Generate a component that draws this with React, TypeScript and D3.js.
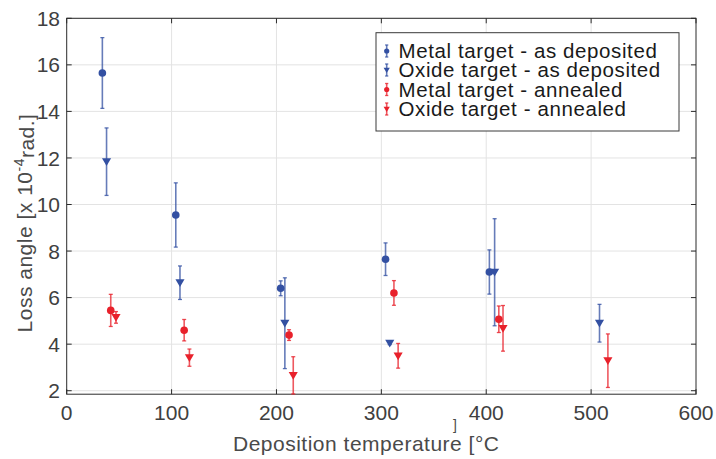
import React, { useEffect, useRef } from 'react';
import * as d3 from 'd3';

// values (loss angle in 1e-4 rad, temperature in °C)
const metalAsDepT = [34, 104, 204, 304, 403];
const metalAsDepY = [15.65, 9.55, 6.4, 7.65, 7.1];
const metalAsDepErr = [1.52, 1.38, 0.32, 0.7, 0.95];

const oxideAsDepT = [38, 108, 208, 308, 408, 508];
const oxideAsDepY = [11.84, 6.64, 4.9, 4.04, 7.09, 4.9];
const oxideAsDepErr = [1.45, 0.72, 1.95, 0.06, 2.3, 0.81];

const metalAnnT = [42, 112, 212, 312, 412];
const metalAnnY = [5.45, 4.6, 4.39, 6.2, 5.07];
const metalAnnErr = [0.69, 0.46, 0.23, 0.53, 0.57];

const oxideAnnT = [47, 117, 216, 316, 416, 516];
const oxideAnnY = [5.15, 3.42, 2.66, 3.5, 4.68, 3.29];
const oxideAnnErr = [0.25, 0.37, 0.8, 0.53, 0.98, 1.15];

const xTicks = [0, 100, 200, 300, 400, 500, 600];
const yTicks = [2, 4, 6, 8, 10, 12, 14, 16, 18];

const BLUE = '#3350a2';
const RED = '#e8212b';

const seriesList = [
  { name: 'Metal target - as deposited', t: metalAsDepT, y: metalAsDepY, err: metalAsDepErr, color: BLUE, shape: 'circle' },
  { name: 'Oxide target - as deposited', t: oxideAsDepT, y: oxideAsDepY, err: oxideAsDepErr, color: BLUE, shape: 'tri' },
  { name: 'Metal target - annealed', t: metalAnnT, y: metalAnnY, err: metalAnnErr, color: RED, shape: 'circle' },
  { name: 'Oxide target - annealed', t: oxideAnnT, y: oxideAnnY, err: oxideAnnErr, color: RED, shape: 'tri' },
];

const W = 716;
const H = 459;
const margin = { left: 66.7, right: 20, top: 18.3, bottom: 64.8 };
const FONT = '"Liberation Sans", Arial, Helvetica, sans-serif';

export default function App() {
  const ref = useRef<SVGSVGElement | null>(null);

  useEffect(() => {
    document.body.style.margin = '0';
    const svg = d3.select(ref.current);
    svg.selectAll('*').remove();

    const x0 = margin.left, x1 = W - margin.right;
    const y0 = H - margin.bottom, y1 = margin.top;

    const x = d3.scaleLinear().domain([0, 600]).range([x0, x1]);
    const y = d3.scaleLinear().domain([1.85, 18]).range([y0, y1]);

    svg.append('rect').attr('width', W).attr('height', H).attr('fill', '#fff');

    // grid
    const grid = svg.append('g').attr('stroke', '#e3e3e3').attr('stroke-width', 1);
    grid.selectAll('line.gx').data(xTicks.slice(1, -1)).enter().append('line')
      .attr('x1', d => x(d)).attr('x2', d => x(d)).attr('y1', y0).attr('y2', y1);
    grid.selectAll('line.gy').data(yTicks).enter().append('line')
      .attr('x1', x0).attr('x2', x1).attr('y1', d => y(d)).attr('y2', d => y(d));

    // frame + ticks
    const axisColor = '#2b2b2b';
    svg.append('rect').attr('x', x0).attr('y', y1).attr('width', x1 - x0).attr('height', y0 - y1)
      .attr('fill', 'none').attr('stroke', axisColor).attr('stroke-width', 1);
    const tk = svg.append('g').attr('stroke', axisColor).attr('stroke-width', 1);
    const tl = 5;
    xTicks.forEach(v => {
      tk.append('line').attr('x1', x(v)).attr('x2', x(v)).attr('y1', y0).attr('y2', y0 - tl);
      tk.append('line').attr('x1', x(v)).attr('x2', x(v)).attr('y1', y1).attr('y2', y1 + tl);
    });
    yTicks.forEach(v => {
      tk.append('line').attr('x1', x0).attr('x2', x0 + tl).attr('y1', y(v)).attr('y2', y(v));
      tk.append('line').attr('x1', x1).attr('x2', x1 - tl).attr('y1', y(v)).attr('y2', y(v));
    });

    // tick labels
    svg.append('g').selectAll('text').data(xTicks).enter().append('text')
      .attr('x', d => x(d)).attr('y', 420)
      .attr('text-anchor', 'middle').attr('font-family', FONT).attr('font-size', 21)
      .attr('fill', '#404040').text(d => d);
    svg.append('g').selectAll('text').data(yTicks).enter().append('text')
      .attr('x', 60).attr('y', d => y(d)).attr('dy', '0.36em')
      .attr('text-anchor', 'end').attr('font-family', FONT).attr('font-size', 21)
      .attr('fill', '#404040').text(d => d);

    // axis titles
    svg.append('text').attr('x', 233).attr('y', 451)
      .attr('font-family', FONT).attr('font-size', 21).attr('letter-spacing', 0.5).attr('fill', '#4a4a4a')
      .text('Deposition temperature [°C');
    svg.append('text').attr('x', 453).attr('y', 430)
      .attr('font-family', FONT).attr('font-size', 14).attr('fill', '#4a4a4a')
      .text(']');

    const yl = svg.append('text').attr('transform', 'translate(32,223) rotate(-90)')
      .attr('text-anchor', 'middle').attr('font-family', FONT).attr('font-size', 21)
      .attr('letter-spacing', 0.5).attr('fill', '#4a4a4a');
    yl.append('tspan').text('Loss angle [x 10');
    yl.append('tspan').attr('font-size', 14).attr('dy', -8).text('-4');
    yl.append('tspan').attr('dy', 10).text('rad.]');

    const tri = (s: number) => `M${-s},${-s * 0.75}L${s},${-s * 0.75}L0,${s * 0.95}Z`;

    const drawPoint = (g: any, cx: number, cy: number, ylo: number, yhi: number, color: string, shape: string, r: number, cap: number) => {
      g.append('line').attr('x1', cx).attr('x2', cx).attr('y1', ylo).attr('y2', yhi)
        .attr('stroke', color).attr('stroke-width', 1.6).attr('stroke-opacity', 0.75);
      [ylo, yhi].forEach(yy => g.append('line').attr('x1', cx - cap).attr('x2', cx + cap)
        .attr('y1', yy).attr('y2', yy).attr('stroke', color).attr('stroke-width', 1.3).attr('stroke-opacity', 0.8));
      if (shape === 'circle') {
        g.append('circle').attr('cx', cx).attr('cy', cy).attr('r', r).attr('fill', color);
      } else {
        g.append('path').attr('d', tri(r * 1.2)).attr('transform', `translate(${cx},${cy})`).attr('fill', color);
      }
    };

    const marks = svg.append('g');
    seriesList.forEach(s => {
      s.t.forEach((t, i) => {
        drawPoint(marks, x(t), y(s.y[i]), y(s.y[i] - s.err[i]), y(s.y[i] + s.err[i]), s.color, s.shape, 3.8, 2);
      });
    });

    // legend
    const lg = svg.append('g');
    lg.append('rect').attr('x', 376).attr('y', 32.7).attr('width', 303).attr('height', 98.3)
      .attr('fill', '#fff').attr('stroke', '#3a3a3a').attr('stroke-width', 1);
    const rowY = [51, 70, 89.5, 109];
    seriesList.forEach((s, i) => {
      const cy = rowY[i];
      drawPoint(lg, 386.7, cy, cy + 6, cy - 6, s.color, s.shape, 2.6, 1.6);
      lg.append('text').attr('x', 398.5).attr('y', cy).attr('dy', '0.36em')
        .attr('font-family', FONT).attr('font-size', 20.5).attr('letter-spacing', 0.6)
        .attr('fill', '#1a1a1a').text(s.name);
    });
  }, []);

  return (
    <svg ref={ref} width={W} height={H} style={{ display: 'block' }} />
  );
}
